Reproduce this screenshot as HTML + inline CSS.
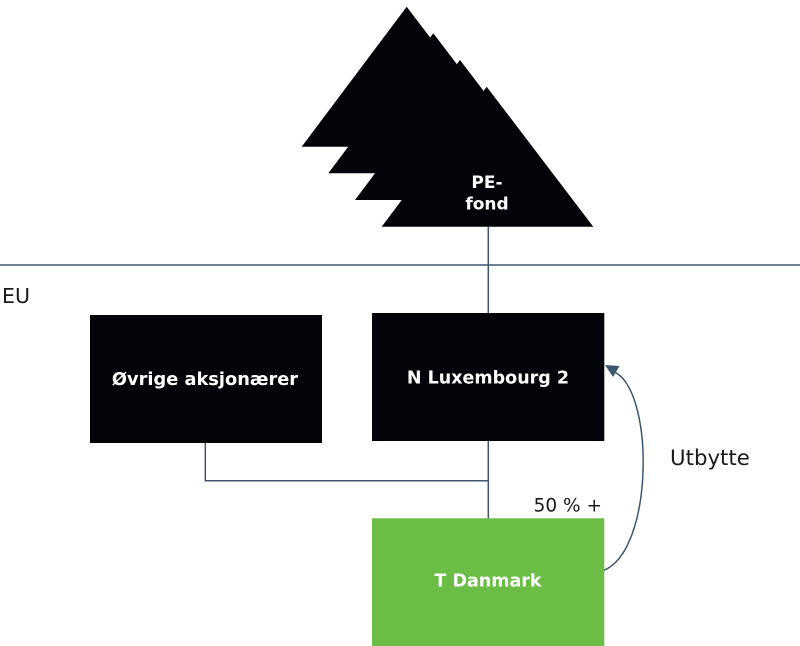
<!DOCTYPE html>
<html>
<head>
<meta charset="utf-8">
<style>
  html, body { margin: 0; padding: 0; background: #ffffff; }
  svg { display: block; }
  text { font-family: "DejaVu Sans", "Liberation Sans", sans-serif; }
</style>
</head>
<body>
<svg width="800" height="646" viewBox="0 0 800 646" xmlns="http://www.w3.org/2000/svg">
  <rect x="0" y="0" width="800" height="646" fill="#ffffff"/>

  <!-- stacked triangles (PE-fond) -->
  <g fill="#03040a">
    <polygon points="406.7,6.7 301.7,146.7 513.3,146.7"/>
    <polygon points="433.3,33.3 328.3,173.3 540,173.3"/>
    <polygon points="460,60 355,200 566.7,200"/>
    <polygon points="486.7,86.7 381.7,226.7 593.3,226.7"/>
  </g>
  <text x="487" y="188" fill="#ffffff" font-size="17" font-weight="bold" text-anchor="middle">PE-</text>
  <text x="487" y="209.5" fill="#ffffff" font-size="17" font-weight="bold" text-anchor="middle">fond</text>

  <!-- EU boundary line -->
  <line x1="0" y1="265" x2="800" y2="265" stroke="#3d5670" stroke-width="1.5"/>
  <text x="2" y="303" fill="#1a1a1a" font-size="20.5">EU</text>

  <!-- connectors -->
  <g stroke="#3d5670" stroke-width="1.5" fill="none">
    <line x1="488.3" y1="226.7" x2="488.3" y2="313"/>
    <line x1="488.3" y1="441" x2="488.3" y2="518.5"/>
    <polyline points="205.3,443 205.3,480.7 488.3,480.7"/>
    <path d="M602.7,570.7 C655,552 655,385 612,371"/>
  </g>
  <polygon points="605,365 619.5,366 613,377" fill="#3d5670"/>

  <!-- boxes -->
  <rect x="90" y="315" width="232" height="128" fill="#03040a"/>
  <text x="205" y="385" fill="#ffffff" font-size="17.8" font-weight="bold" text-anchor="middle">Øvrige aksjonærer</text>

  <rect x="372" y="313" width="232.3" height="128" fill="#03040a"/>
  <text x="488" y="383.3" fill="#ffffff" font-size="17.5" font-weight="bold" text-anchor="middle">N Luxembourg 2</text>

  <rect x="372" y="518.3" width="232.3" height="128" fill="#6bbd45"/>
  <text x="488" y="586.7" fill="#ffffff" font-size="17.5" font-weight="bold" text-anchor="middle">T Danmark</text>

  <!-- labels -->
  <text x="602" y="511.7" fill="#1a1a1a" font-size="18.5" text-anchor="end">50 % +</text>
  <text x="670" y="465" fill="#1a1a1a" font-size="21.3">Utbytte</text>
</svg>
</body>
</html>
